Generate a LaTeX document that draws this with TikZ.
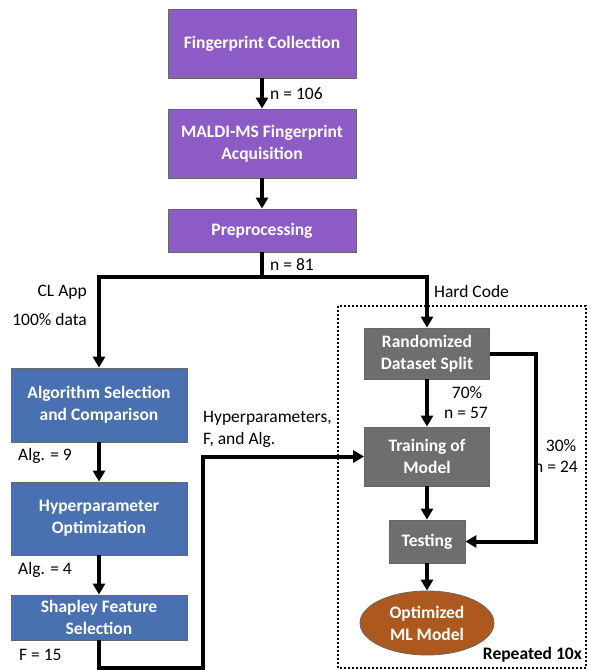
\documentclass[tikz,border=0pt]{standalone}
\usepackage{fontspec}
\setmainfont{Carlito}
\usepackage{tikz}
\usetikzlibrary{arrows.meta, shapes.geometric}
\definecolor{purple}{RGB}{140,91,198}
\definecolor{blue}{RGB}{73,112,176}
\definecolor{gray}{RGB}{110,110,110}
\definecolor{brown}{RGB}{172,88,30}

\begin{document}
\begin{tikzpicture}[>={Triangle[width=12pt,length=11pt]}, x=1pt, y=-1pt,
  font=\fontsize{17.5}{22}\selectfont,
  box/.style={draw=black!60, line width=0.8pt, text=white, align=center,
    inner sep=0pt, font=\fontsize{17.5}{22}\selectfont\bfseries},
  flow/.style={->, line width=4pt},
  lbl/.style={inner sep=0pt, align=left}]

\useasboundingbox (0,0) rectangle (590,670);

\draw[dotted, line width=2pt] (338,306) rectangle (586,668);

\node[box, fill=purple, minimum width=188pt, minimum height=69pt] (collect) at (262,43.5) {Fingerprint Collection};
\node[box, fill=purple, minimum width=188pt, minimum height=69pt] (maldi) at (262,143.5) {MALDI-MS Fingerprint\\Acquisition};
\node[box, fill=purple, minimum width=188pt, minimum height=43pt] (prep) at (262,230.5) {Preprocessing};

\node[box, fill=blue, minimum width=176pt, minimum height=74pt] (algsel) at (99,405) {Algorithm Selection\\and Comparison};
\node[box, fill=blue, minimum width=176pt, minimum height=73pt] (hyper) at (99,518.5) {Hyperparameter\\Optimization};
\node[box, fill=blue, minimum width=176pt, minimum height=45pt] (shap) at (99,617.5) {Shapley Feature\\Selection};

\node[box, fill=gray, minimum width=125pt, minimum height=51pt] (split) at (427,353.5) {Randomized\\Dataset Split};
\node[box, fill=gray, minimum width=125pt, minimum height=59pt] (train) at (427,456.5) {Training of\\Model};
\node[box, fill=gray, minimum width=76pt, minimum height=43pt] (test) at (427,541.5) {Testing};
\node[box, ellipse, fill=brown, minimum width=134pt, minimum height=64pt] (model) at (427,623) {Optimized\\ML Model};

% labels
\node[lbl, anchor=west] (n106) at (270,94) {n = 106};
\node[lbl, anchor=west] (n81) at (270,265) {n = 81};
\node[lbl, anchor=east] (clapp) at (87,292) {CL App};
\node[lbl, anchor=east] (alldata) at (87,319) {100\% data};
\node[lbl, anchor=west] (hard) at (434,291) {Hard Code};
\node[lbl, anchor=west] (alg9) at (18,456) {Alg. = 9};
\node[lbl, anchor=west] (alg4) at (18,570) {Alg. = 4};
\node[lbl, anchor=west] (f15) at (19,655) {F = 15};
\node[lbl, anchor=west] (params) at (203,429) {Hyperparameters,\\F, and Alg.};
\node[lbl] (p70) at (467,393) {70\%};
\node[lbl] (n57) at (466,413) {n = 57};
\node[lbl] (p30) at (561,446) {30\%};
\node[lbl] (n24) at (556,467) {n = 24};
\node[lbl, anchor=east, font=\fontsize{17.5}{22}\selectfont\bfseries] (rep) at (582,655) {Repeated 10x};

% connectors
\coordinate (fork) at (262,277);
\draw[flow] (collect) -- (maldi);
\draw[flow] (maldi) -- (prep);
\draw[flow] (prep.south) -- (fork) -| (algsel.north);
\draw[flow] (fork) -| (split.north);
\draw[flow] (algsel) -- (hyper);
\draw[flow] (hyper) -- (shap);
\draw[flow] (shap.south) |- (203,668) |- (train.west);
\draw[flow] (split) -- (train);
\draw[flow] (split.east) -- ++(46,0) |- (test.east);
\draw[flow] (train) -- (test);
\draw[flow] (test) -- (model);

\end{tikzpicture}
\end{document}
